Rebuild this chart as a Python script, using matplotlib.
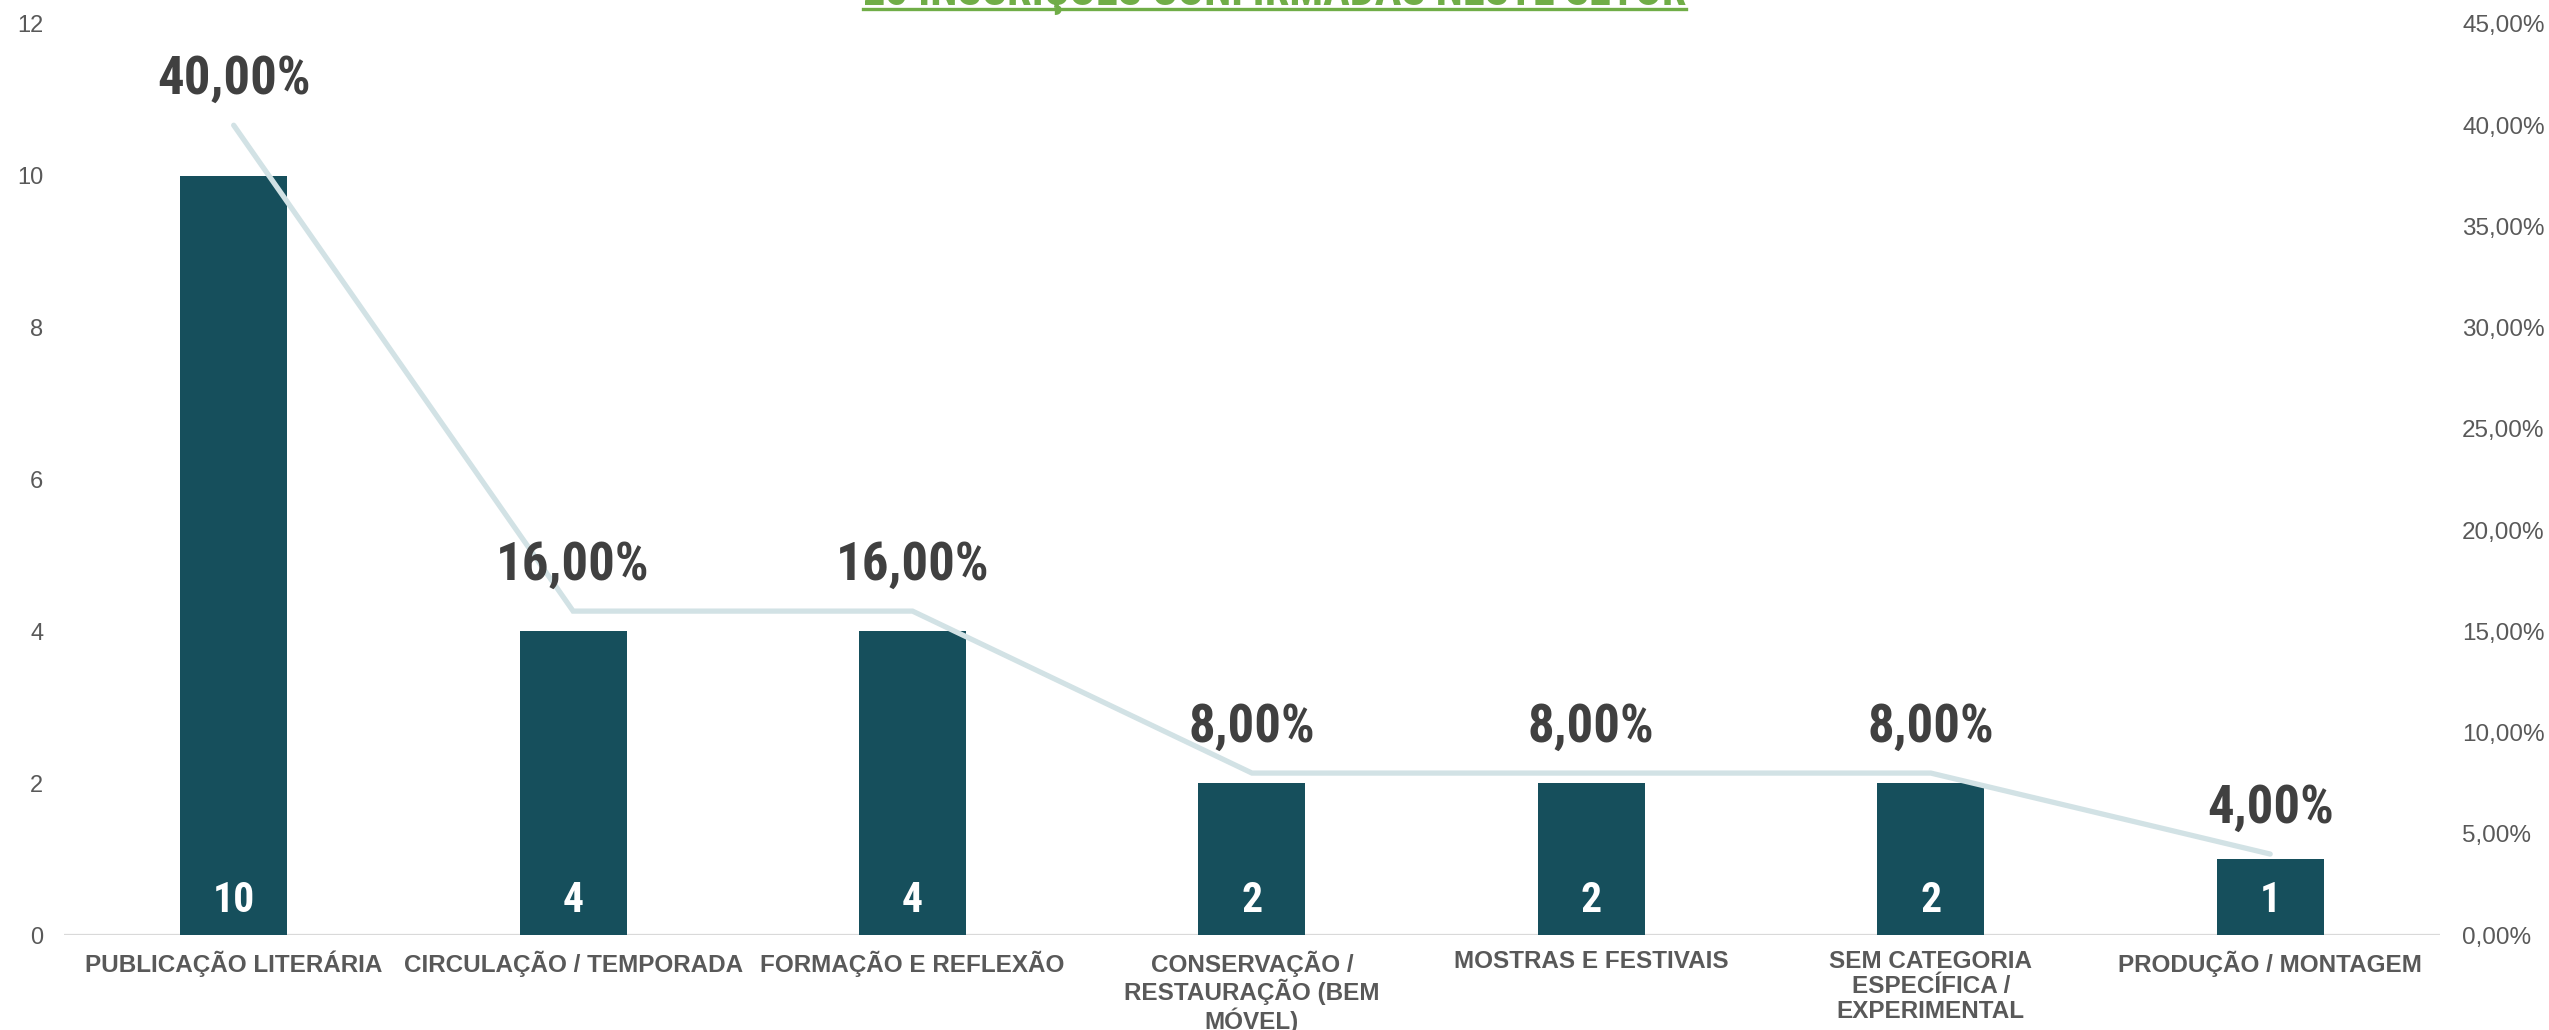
import matplotlib
matplotlib.use('Agg')
import matplotlib.pyplot as plt
from matplotlib.lines import Line2D
from matplotlib.ticker import FuncFormatter
from matplotlib import font_manager

# Data
categorias = ['PUBLICAÇÃO LITERÁRIA', 'CIRCULAÇÃO / TEMPORADA', 'FORMAÇÃO E REFLEXÃO',
              'CONSERVAÇÃO /\nRESTAURAÇÃO (BEM\nMÓVEL)', 'MOSTRAS E FESTIVAIS',
              'SEM CATEGORIA\nESPECÍFICA /\nEXPERIMENTAL', 'PRODUÇÃO / MONTAGEM']
inscricoes = [10, 4, 4, 2, 2, 2, 1]
percentuais = [0.40, 0.16, 0.16, 0.08, 0.08, 0.08, 0.04]
titulo = '25 INSCRIÇÕES CONFIRMADAS NESTE SETOR'

bar_color = '#164F5C'
line_color = '#D2E2E5'
tick_color = '#595959'
label_color = '#404040'

# narrowest bold face we can find
names = {f.name for f in font_manager.fontManager.ttflist}
condensed = 'Roboto Condensed' in names
cond_font = ['Roboto Condensed' if condensed else 'Roboto', 'DejaVu Sans']
scale = 1.0 if condensed else 0.88

plt.rcParams['font.family'] = ['Liberation Sans', 'DejaVu Sans']

fig = plt.figure(figsize=(25.49, 10.30), dpi=100)
ax1 = fig.add_axes([0.0251, 0.0922, 0.9321, 0.8845])
ax2 = ax1.twinx()

x = list(range(len(categorias)))

# bars on primary axis
ax1.bar(x, inscricoes, width=0.315, color=bar_color, zorder=2)
ax1.set_ylim(0, 12)
ax1.set_xlim(-0.5, len(categorias) - 0.5)
ax1.set_yticks(range(0, 13, 2))

# percent line on secondary axis
ax2.plot(x, percentuais, color=line_color, linewidth=3.8, solid_capstyle='round',
         solid_joinstyle='miter', zorder=3)
ax2.set_ylim(0, 0.45)
ax2.set_yticks([i * 0.05 for i in range(10)])
ax2.yaxis.set_major_formatter(FuncFormatter(lambda v, p: f'{v * 100:.2f}%'.replace('.', ',')))

# value labels inside bars
for xi, v in zip(x, inscricoes):
    ax1.annotate(str(v), (xi, 0), xytext=(0, 25), textcoords='offset points',
                 ha='center', va='center', color='white', fontsize=30 * scale,
                 fontweight='bold', family=cond_font, zorder=4)

# percent labels above line points
for xi, p in zip(x, percentuais):
    ax2.annotate(f'{p * 100:.2f}%'.replace('.', ','), (xi, p), xytext=(0, 33),
                 textcoords='offset points', ha='center', va='center',
                 color=label_color, fontsize=38 * scale, fontweight='bold', family=cond_font)

# axes styling
for ax in (ax1, ax2):
    for s in ax.spines.values():
        s.set_visible(False)
ax1.axhline(0, color='#D9D9D9', linewidth=1.6, zorder=1)

ax1.set_xticks(x)
ax1.set_xticklabels(categorias, fontsize=17.5, fontweight='bold', color=tick_color,
                    linespacing=1.1, va='top')
ax1.tick_params(axis='x', length=0, pad=11)
ax1.tick_params(axis='y', length=0, pad=15, labelsize=17, labelcolor=tick_color)
ax2.tick_params(axis='y', length=0, pad=16, labelsize=17.5, labelcolor=tick_color)

# title, clipped at top with underline
t = fig.text(0.5, 1 - 5 / 1030, titulo, ha='center', va='baseline', color='#70AD47',
             fontsize=32 * scale, fontweight='bold', family=cond_font)
fig.canvas.draw()
bb = t.get_window_extent().transformed(fig.transFigure.inverted())
fig.add_artist(Line2D([bb.x0, bb.x1], [1 - 8.5 / 1030] * 2, color='#70AD47',
                      linewidth=2.4, transform=fig.transFigure))

fig.savefig('out.png', dpi=100)
